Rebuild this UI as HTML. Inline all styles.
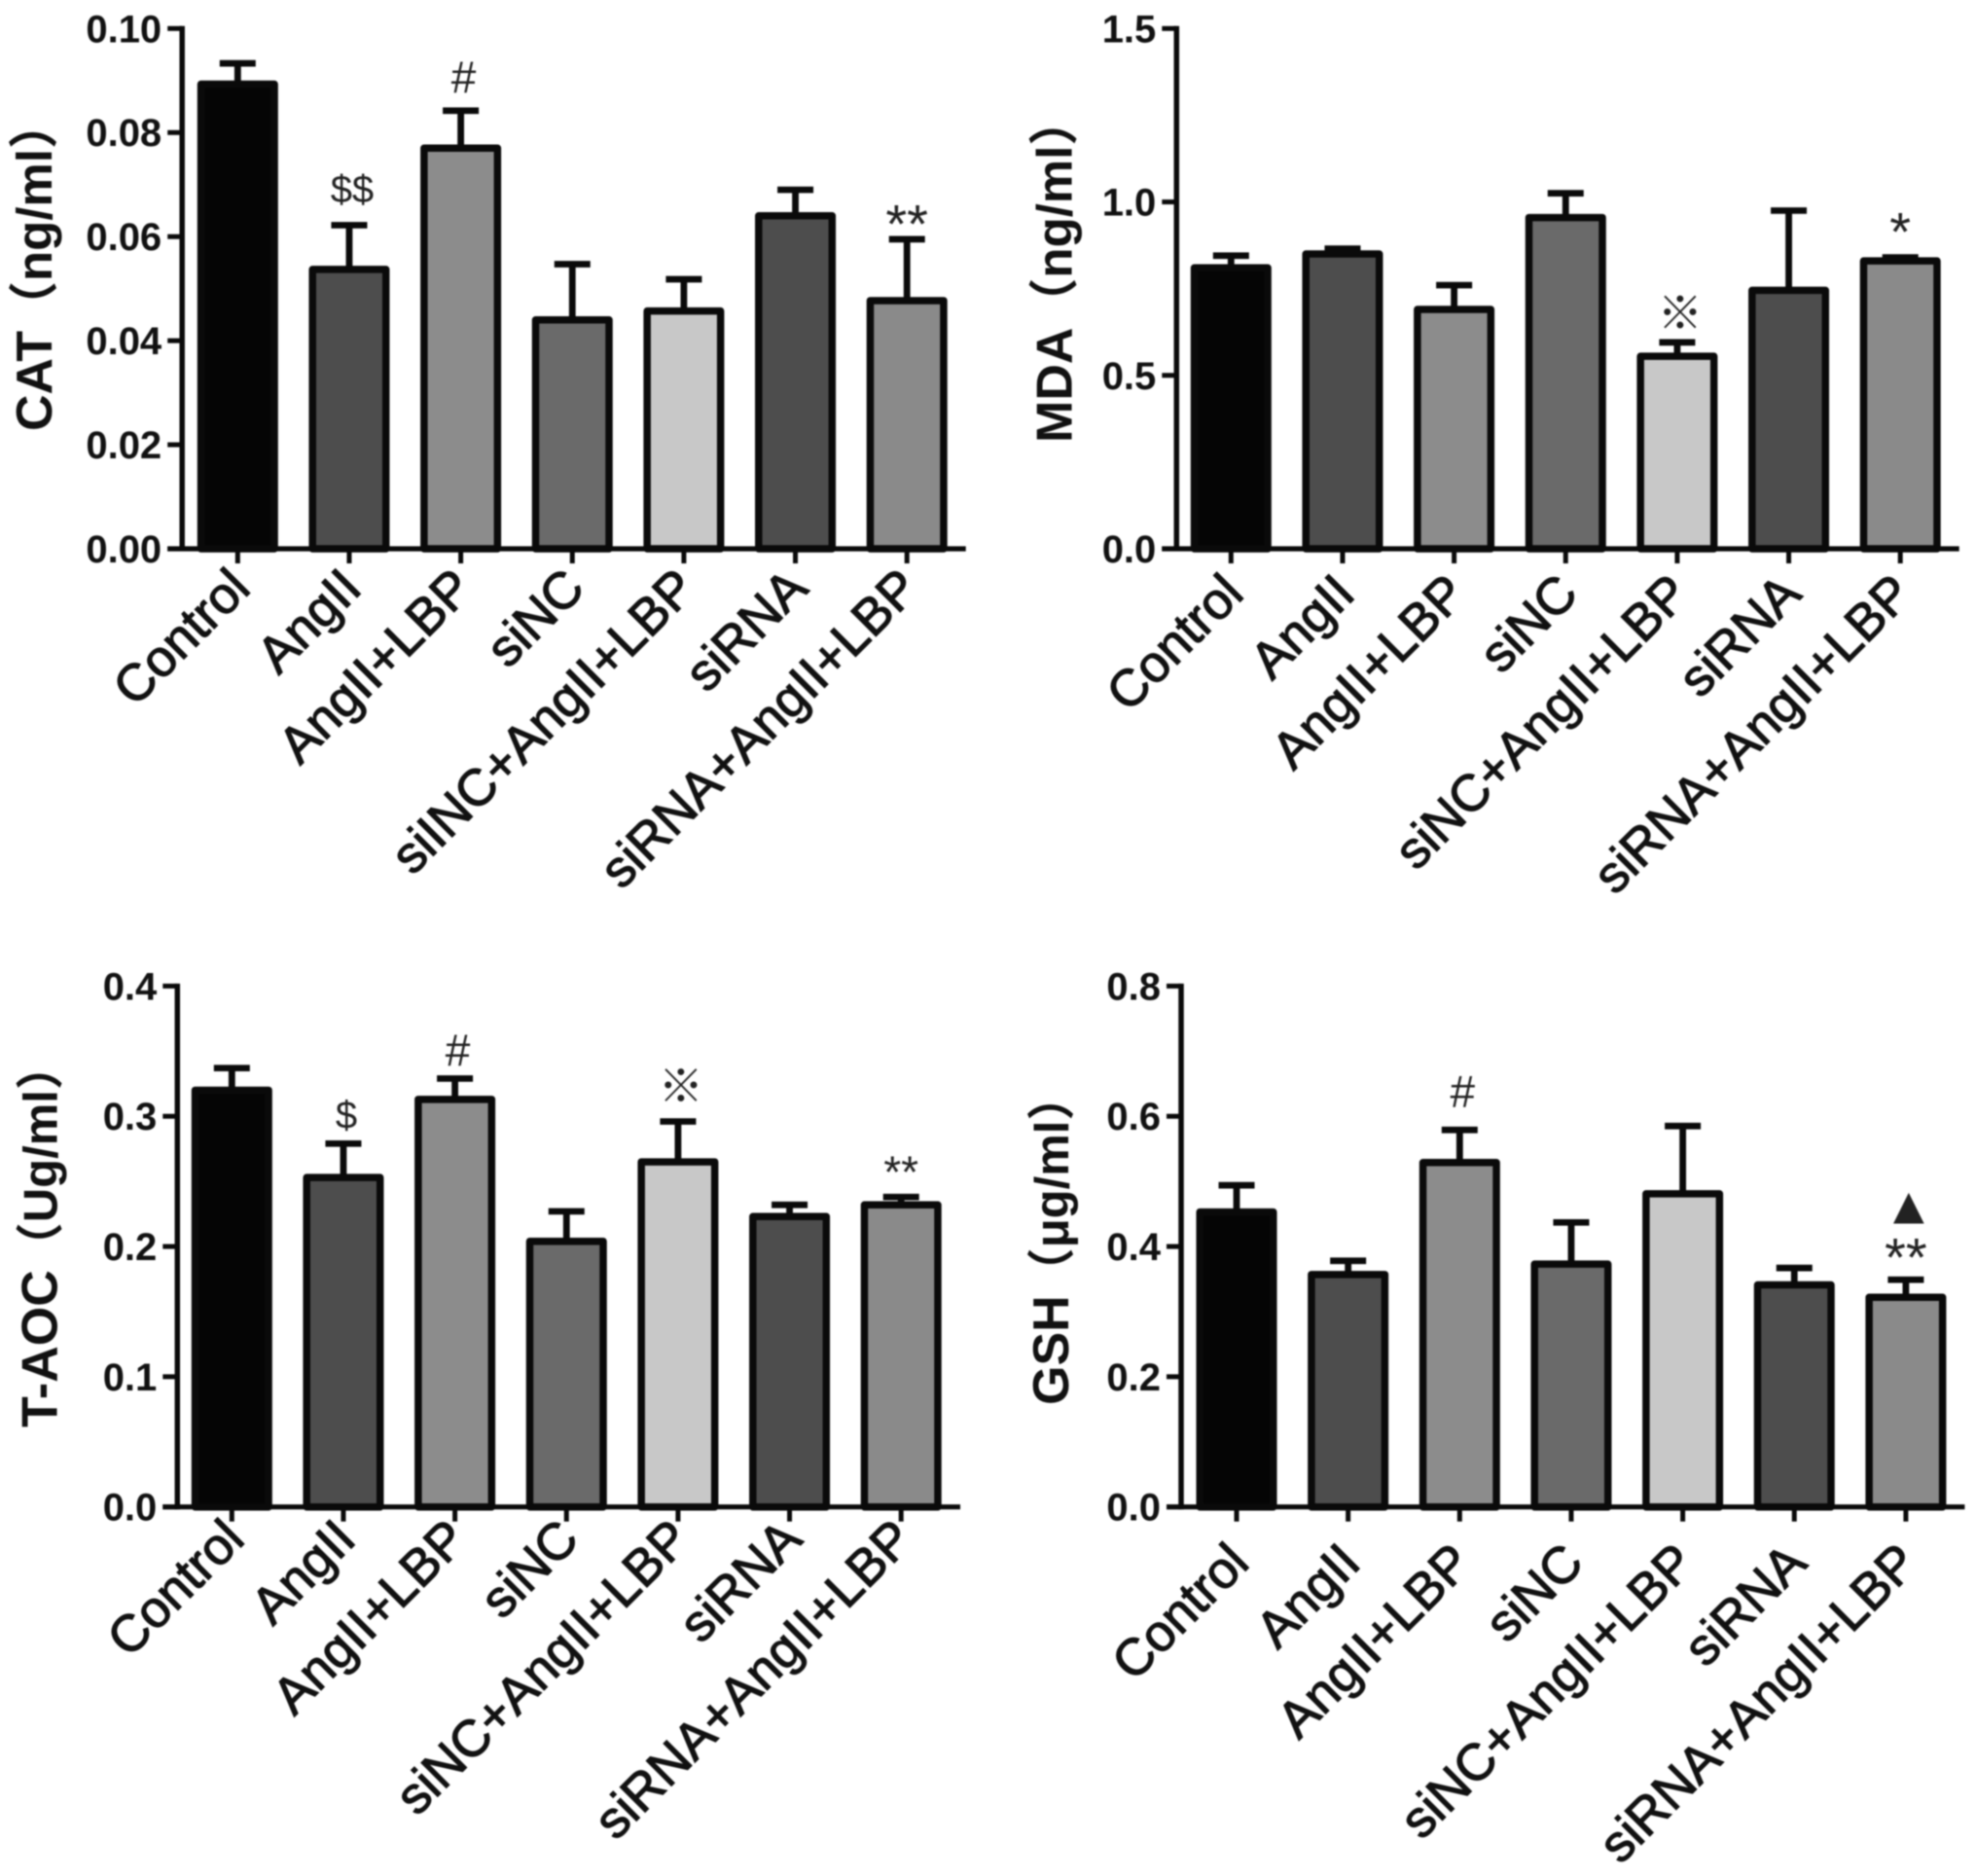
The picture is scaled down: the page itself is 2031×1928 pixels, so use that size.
<!DOCTYPE html>
<html lang="en">
<head>
<meta charset="utf-8">
<title>Oxidative stress markers bar charts</title>
<style>
html,body{margin:0;padding:0;background:#fff;}
body{width:2031px;height:1928px;overflow:hidden;}
svg{display:block;filter:blur(0.7px);}
.tick-label{font:bold 40px "Liberation Sans",sans-serif;fill:#111;text-anchor:end;}
.cat-label{font:53px "Liberation Sans",sans-serif;fill:#111;stroke:#111;stroke-width:1.2px;text-anchor:end;}
.y-title{font:bold 49px "Liberation Sans","Noto Sans CJK SC",sans-serif;fill:#111;}
.y-title-name{font-size:52px;}
.mark{font-family:"Liberation Sans","Noto Sans CJK SC","DejaVu Sans",sans-serif;fill:#222;text-anchor:middle;}
</style>
</head>
<body>
<svg id="fig" width="2031" height="1928" viewBox="0 0 2031 1928" xmlns="http://www.w3.org/2000/svg">
  <rect width="2031" height="1928" fill="#fff"/>
  <g id="panel-cat"></g>
  <g id="panel-mda"></g>
  <g id="panel-taoc"></g>
  <g id="panel-gsh"></g>
</svg>
<script>
const groupCategories = ['Control','AngII','AngII+LBP','siNC','siNC+AngII+LBP','siRNA','siRNA+AngII+LBP'];
const catCategories = ['Control','AngII','AngII+LBP','siNC','siINC+AngII+LBP','siRNA','siRNA+AngII+LBP'];
const barFills = ['#050505','#4d4d4d','#8c8c8c','#6a6a6a','#c8c8c8','#4d4d4d','#8a8a8a'];

const catTicks = ['0.00','0.02','0.04','0.06','0.08','0.10'];
const catMeans = [0.0893,0.0537,0.0770,0.0440,0.0457,0.0640,0.0477];
const catErrTops = [0.0933,0.0622,0.0842,0.0547,0.0518,0.0690,0.0595];
const catMarkBars = [1,2,6];
const catMarkText = ['$$','#','**'];
const catMarkLevels = [0.0666,0.0876,0.0588];

const mdaTicks = ['0.0','0.5','1.0','1.5'];
const mdaMeans = [0.81,0.85,0.69,0.955,0.555,0.745,0.83];
const mdaErrTops = [0.845,0.865,0.76,1.025,0.595,0.975,0.84];
const mdaMarkBars = [4,6];
const mdaMarkText = ['※','*'];
const mdaMarkLevels = [0.634,0.860];

const taocTicks = ['0.0','0.1','0.2','0.3','0.4'];
const taocMeans = [0.32,0.253,0.313,0.204,0.265,0.223,0.232];
const taocErrTops = [0.337,0.279,0.329,0.227,0.296,0.232,0.238];
const taocMarkBars = [1,2,4,6];
const taocMarkText = ['$','#','※','**'];
const taocMarkLevels = [0.291,0.3385,0.311,0.2452];

const gshTicks = ['0.0','0.2','0.4','0.6','0.8'];
const gshMeans = [0.453,0.357,0.529,0.373,0.481,0.341,0.322];
const gshErrTops = [0.494,0.378,0.579,0.437,0.585,0.367,0.349];
const gshMarkBars = [2,6,6];
const gshMarkText = ['#','▲','**'];
const gshMarkLevels = [0.614,0.435,0.3542];

const NS = 'http://www.w3.org/2000/svg';
function mk(parent, tag, attrs, text) {
  const el = document.createElementNS(NS, tag);
  for (const k in attrs) el.setAttribute(k, attrs[k]);
  if (text !== undefined) el.textContent = text;
  parent.appendChild(el);
  return el;
}

function markFontSize(text, starSize) {
  if (text.indexOf('*') === 0) return starSize;
  if (text === '▲') return 54;
  if (text.indexOf('$') === 0) return 40;
  return 46;
}

function drawPanel(id, o) {
  const g = document.getElementById(id);
  const yMax = parseFloat(o.ticks[o.ticks.length - 1]);
  const yScale = v => o.y0 - (v / yMax) * (o.y0 - o.yTop);
  const xScale = i => o.x0 + i * 114.65;
  const ink = '#0a0a0a';

  o.means.forEach((m, i) => {
    const cx = xScale(i);
    const stem = mk(g, 'line', {x1: cx, x2: cx, y1: yScale(m), y2: yScale(o.errTops[i]), stroke: ink, 'stroke-width': 6.8});
    
    
    const cap = mk(g, 'line', {x1: cx - 18.5, x2: cx + 18.5, y1: yScale(o.errTops[i]), y2: yScale(o.errTops[i]), stroke: ink, 'stroke-width': 6.7});
    
    
    const bar = mk(g, 'rect', {x: cx - 37.75, y: yScale(m), width: 75.5, height: o.y0 - yScale(m), fill: barFills[i], stroke: ink, 'stroke-width': 7.5, 'stroke-linejoin': 'round'});
    
    
  });

  const yAxis = mk(g, 'line', {x1: o.axisX, x2: o.axisX, y1: o.yTop - 2.5, y2: o.y0 + 2.5, stroke: ink, 'stroke-width': 5.5});
  
  
  const xAxis = mk(g, 'line', {x1: o.axisX - 15, x2: o.xEnd, y1: o.y0, y2: o.y0, stroke: ink, 'stroke-width': 5.2});
  
  

  o.ticks.forEach(t => {
    const y = yScale(parseFloat(t));
    const tick = mk(g, 'line', {x1: o.axisX - 15, x2: o.axisX, y1: y, y2: y, stroke: ink, 'stroke-width': 5});
    
    
    const lab = mk(g, 'text', {class: 'tick-label', x: o.axisX - 21, y: y + 14}, t);
    
    
  });

  o.cats.forEach((c, i) => {
    const cx = xScale(i);
    const tick = mk(g, 'line', {x1: cx, x2: cx, y1: o.y0, y2: o.y0 + 15, stroke: ink, 'stroke-width': 5});
    
    
    const lx = cx + 15, ly = o.y0 + o.labelDrop;
    const lab = mk(g, 'text', {class: 'cat-label', x: lx, y: ly, transform: 'rotate(-45 ' + lx + ' ' + ly + ')'}, c);
    
    
  });

  const title = mk(g, 'text', {class: 'y-title', x: o.titleX, y: o.titleY, 'font-size': o.unitSize, style: 'font-size:' + o.unitSize + 'px', transform: 'rotate(-90 ' + o.titleX + ' ' + o.titleY + ')'});
  
  
  mk(title, 'tspan', {class: 'y-title-name'}, o.titleName);
  mk(title, 'tspan', {}, o.titleUnit);

  o.markBars.forEach((b, k) => {
    const size = markFontSize(o.markText[k], o.starSize);
    const nudge = o.markText[k].indexOf('*') === 0 ? 0 : 3;
    const m = mk(g, 'text', {class: 'mark', x: xScale(b) + nudge, y: yScale(o.markLevels[k]), 'font-size': size}, o.markText[k]);
    
    
  });
}

drawPanel('panel-cat', {cats: catCategories, ticks: catTicks, means: catMeans, errTops: catErrTops,
  markBars: catMarkBars, markText: catMarkText, markLevels: catMarkLevels, starSize: 56,
  axisX: 187.2, x0: 244.3, xEnd: 992.7, y0: 564, yTop: 29.3, labelDrop: 43,
  titleName: 'CAT', titleUnit: '（ng/ml）', unitSize: 51, titleX: 53, titleY: 443});
drawPanel('panel-mda', {cats: groupCategories, ticks: mdaTicks, means: mdaMeans, errTops: mdaErrTops,
  markBars: mdaMarkBars, markText: mdaMarkText, markLevels: mdaMarkLevels, starSize: 56,
  axisX: 1209.3, x0: 1265.3, xEnd: 2013.7, y0: 564, yTop: 29.3, labelDrop: 48.7,
  titleName: 'MDA', titleUnit: '（ng/ml）', unitSize: 51, titleX: 1101.5, titleY: 455});
drawPanel('panel-taoc', {cats: groupCategories, ticks: taocTicks, means: taocMeans, errTops: taocErrTops,
  markBars: taocMarkBars, markText: taocMarkText, markLevels: taocMarkLevels, starSize: 46,
  axisX: 182.3, x0: 238.3, xEnd: 987, y0: 1548.7, yTop: 1013.4, labelDrop: 35.6,
  titleName: 'T-AOC', titleUnit: '（Ug/ml）', unitSize: 49, titleX: 58.5, titleY: 1467});
drawPanel('panel-gsh', {cats: groupCategories, ticks: gshTicks, means: gshMeans, errTops: gshErrTops,
  markBars: gshMarkBars, markText: gshMarkText, markLevels: gshMarkLevels, starSize: 56,
  axisX: 1214, x0: 1271, xEnd: 2019.4, y0: 1548.7, yTop: 1013.4, labelDrop: 60,
  titleName: 'GSH', titleUnit: '（μg/ml）', unitSize: 49, titleX: 1098, titleY: 1444});
</script>
</body>
</html>
